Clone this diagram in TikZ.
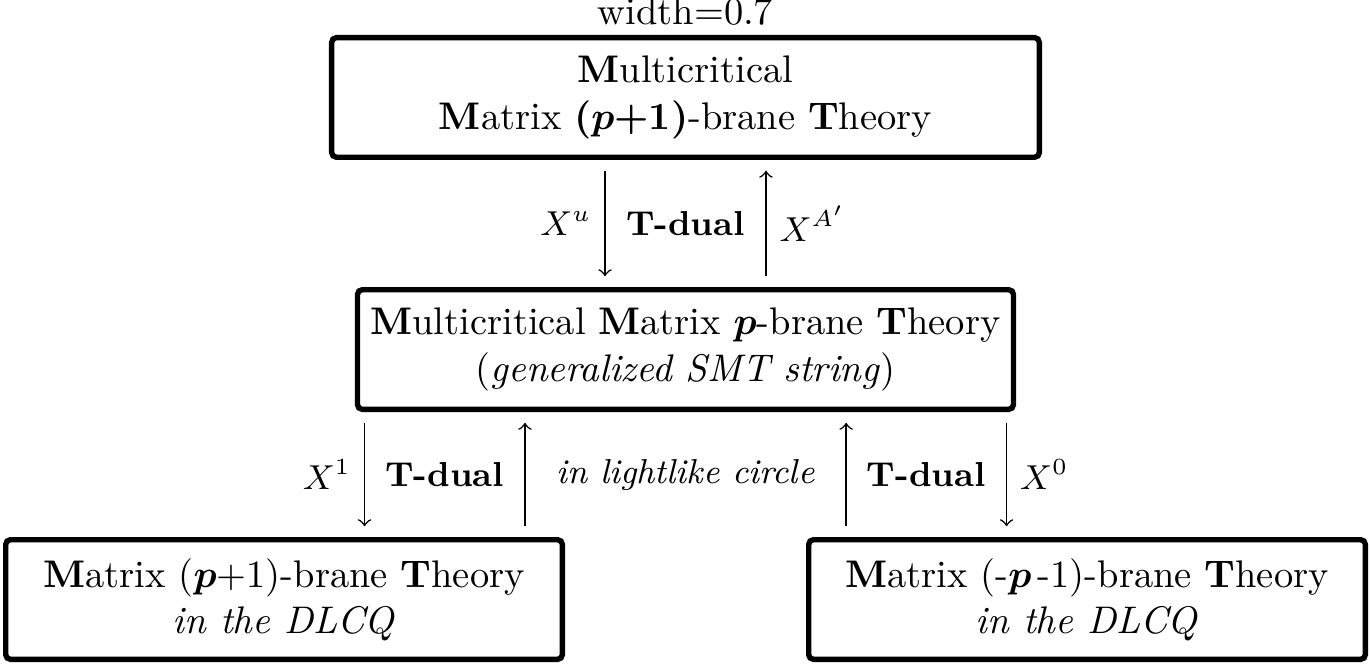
\documentclass[tikz,border=0pt]{standalone}
\usetikzlibrary{positioning}
\tikzset{
  theory/.style={draw,line width=1.4pt,rounded corners=1.2pt,align=center,minimum height=1.092cm},
  dual/.style={font=\small\bfseries},
  tarrow/.style={->,shorten <=2.8pt,shorten >=2.8pt},
}
\begin{document}
\begin{tikzpicture}
    \useasboundingbox (0,0) rectangle (12.52,6.082);
    \node[theory,minimum width=6.462cm] (top) at (6.26,5.192)
        {\textbf{M}ulticritical\\ \textbf{M}atrix \textbf{(}{\boldmath$p$}\textbf{+1)}-brane \textbf{T}heory};
    \node[above=2.4pt of top,inner sep=0pt] (note) {width=0.7};
    \node[theory,minimum width=5.969cm] (mid) at (6.26,2.89)
        {\textbf{M}ulticritical \textbf{M}atrix {\boldmath$p$}-brane \textbf{T}heory\\ (\textit{generalized SMT string})};
    \node[theory,minimum width=5.083cm] (bl) at (2.594,0.607)
        {\textbf{M}atrix ({\boldmath$p$}+1)-brane \textbf{T}heory\\ \textit{in the DLCQ}};
    \node[theory,minimum width=5.083cm] (br) at (9.927,0.607)
        {\textbf{M}atrix (-{\boldmath$p$}\,-1)-brane \textbf{T}heory\\ \textit{in the DLCQ}};
    % top pair
    \draw[tarrow] ([xshift=-0.735cm]top.south) -- ([xshift=-0.735cm]mid.north) node[midway,left,font=\small] {$X^u$};
    \draw[tarrow] ([xshift=0.735cm]mid.north) -- ([xshift=0.735cm]top.south) node[midway,right,font=\small] {$X^{A'}$};
    \path (top) -- node[dual] {T-dual} (mid);
    % bottom pairs
    \coordinate (d1) at ([xshift=0.735cm]bl.north);
    \coordinate (u1) at ([xshift=2.2cm]bl.north);
    \coordinate (u2) at ([xshift=-2.2cm]br.north);
    \coordinate (d2) at ([xshift=-0.735cm]br.north);
    \draw[tarrow] (d1 |- mid.south) -- (d1) node[midway,left,font=\small] {$X^1$};
    \draw[tarrow] (u1) -- (u1 |- mid.south);
    \draw[tarrow] (u2) -- (u2 |- mid.south);
    \draw[tarrow] (d2 |- mid.south) -- (d2) node[midway,right,font=\small] {$X^0$};
    \path (d1 |- mid.south) -- node[dual] {T-dual} (u1);
    \path (u1 |- mid.south) -- node[font=\small\itshape] {in lightlike circle} (u2);
    \path (u2 |- mid.south) -- node[dual] {T-dual} (d2);
\end{tikzpicture}
\end{document}
